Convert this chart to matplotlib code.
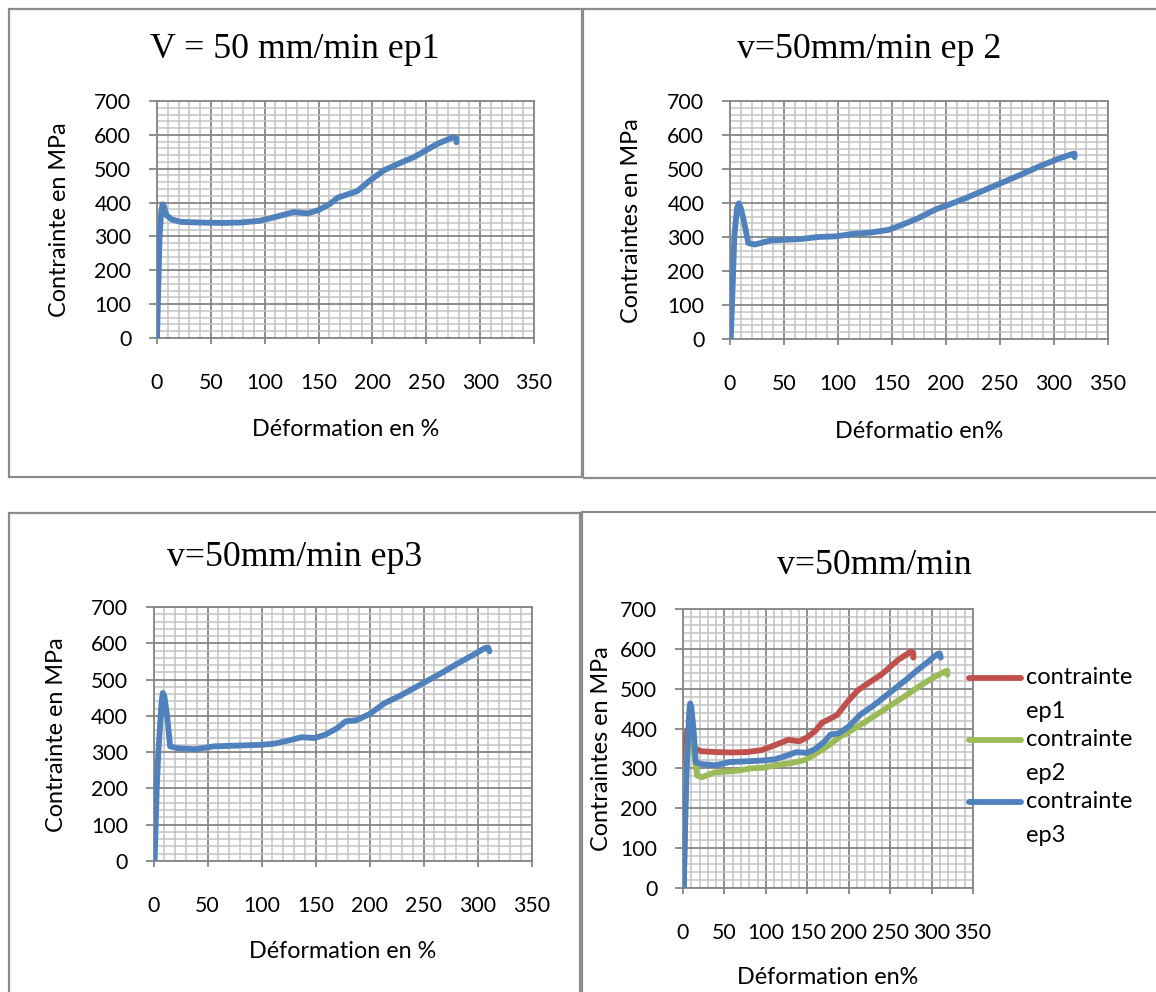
import matplotlib
matplotlib.use("Agg")
import matplotlib.pyplot as plt
from matplotlib.patches import Rectangle
from matplotlib.lines import Line2D
from matplotlib.ticker import MultipleLocator

# Stress-strain data (strain in %, stress in MPa)
ep1_x = [0, 1.2, 2.4, 4, 5.2, 6.5, 8.6, 13.8, 22, 40, 60, 77, 95, 108, 119, 127,
         133, 140, 150, 160, 168, 175, 186, 198, 211, 225, 239, 249, 260, 275, 278, 278]
ep1_y = [0, 150, 300, 375, 395, 388, 363, 350, 343, 341, 340, 341, 346, 356, 365, 372,
         370, 368, 378, 395, 415, 422, 434, 466, 496, 516, 535, 553, 573, 593, 590, 578]

ep2_x = [0.7, 2.5, 4, 6.5, 8.2, 10, 12.6, 17, 23, 38, 65, 82, 99, 113, 130, 147,
         157, 174, 191, 201, 218, 235, 252, 269, 286, 303, 317, 319, 319]
ep2_y = [0, 160, 300, 385, 399, 385, 350, 282, 278, 290, 294, 300, 302, 309, 313, 321,
         333, 355, 382, 393, 414, 437, 460, 483, 507, 529, 544, 545, 535]

ep3_x = [1, 3, 4.5, 7.5, 8.6, 10, 12.7, 15.4, 22, 39, 56, 77, 98, 111, 125, 137, 149,
         159, 170, 178, 188, 200, 214, 228, 241, 255, 269, 282, 296, 307, 310, 311]
ep3_y = [0, 200, 300, 440, 463, 455, 398, 316, 311, 308, 316, 318, 320, 323, 332, 341, 339,
         348, 366, 385, 388, 405, 435, 455, 476, 499, 522, 545, 568, 587, 588, 578]

series_names = ["contrainte\nep1", "contrainte\nep2", "contrainte\nep3"]
series_colors = ["#C0504D", "#9BBB59", "#4F81BD"]

x_ticks = [0, 50, 100, 150, 200, 250, 300, 350]
y_ticks = [0, 100, 200, 300, 400, 500, 600, 700]

W, H = 1156, 992
fig = plt.figure(figsize=(W / 100, H / 100), dpi=100)
fig.patch.set_facecolor("white")

SANS = "Lato"
SERIF = "Liberation Serif"
MAJOR = "#868686"
MINOR = "#C3C3C3"


def fit_size(text, family, target_px, ref=20):
    # font size that makes `text` about target_px wide
    t = fig.text(0, 0, text, fontsize=ref, fontfamily=family)
    w = t.get_window_extent(renderer=fig.canvas.get_renderer()).width
    t.remove()
    return ref * target_px / w


TICK_FS = fit_size("700", SANS, 37)
LABEL_FS = fit_size("Déformation en %", SANS, 188)
LEG_FS = fit_size("contrainte", SANS, 107)
TITLE_FS = fit_size("V = 50 mm/min ep1", SERIF, 290)


def fx(x):
    return x / W


def fy(y):
    return 1 - y / H


def make_axes(left, right, top, bottom):
    ax = fig.add_axes([fx(left), fy(bottom), (right - left) / W, (bottom - top) / H])
    ax.set_xlim(0, 350)
    ax.set_ylim(0, 700)
    ax.set_xticks(x_ticks)
    ax.set_yticks(y_ticks)
    ax.xaxis.set_minor_locator(MultipleLocator(10))
    ax.yaxis.set_minor_locator(MultipleLocator(20))
    ax.grid(which="minor", color=MINOR, linewidth=1.1, zorder=0)
    ax.grid(which="major", color=MAJOR, linewidth=1.3, zorder=0)
    ax.set_axisbelow(True)
    ax.tick_params(which="minor", length=0)
    ax.tick_params(axis="y", which="major", direction="out", length=6, width=1.3,
                   color=MAJOR, pad=12.5, labelsize=TICK_FS)
    ax.tick_params(axis="x", which="major", direction="out", length=4, width=1.3,
                   color=MAJOR, pad=21, labelsize=TICK_FS)
    for lab in ax.get_xticklabels() + ax.get_yticklabels():
        lab.set_fontfamily(SANS)
    for s in ax.spines.values():
        s.set_color(MAJOR)
        s.set_linewidth(1.3)
    return ax


def frame(x0, y0, x1, y1):
    fig.add_artist(Rectangle((fx(x0), fy(y1)), (x1 - x0) / W, (y1 - y0) / H,
                             transform=fig.transFigure, fill=False,
                             edgecolor="#8C8C8C", linewidth=1.6))


def label(x, y, text, rot=0):
    fig.text(fx(x), fy(y), text, rotation=rot, ha="center", va="center",
             fontsize=LABEL_FS, fontfamily=SANS)


def title(x, y, text):
    fig.text(fx(x), fy(y), text, ha="center", va="center", fontsize=TITLE_FS,
             fontfamily=SERIF)


LW = 4.2
line_kw = dict(linewidth=LW, solid_capstyle="round", solid_joinstyle="round", zorder=3)

# panel frames
frame(9, 9, 582, 477)
frame(583, 9, 1162, 478)
frame(9, 513, 580, 998)
frame(582, 512, 1162, 998)

# ep1
ax1 = make_axes(157, 534, 101, 338)
ax1.plot(ep1_x, ep1_y, color=series_colors[2], **line_kw)
title(295, 50, "V = 50 mm/min ep1")
label(59, 220, "Contrainte en MPa", rot=90)
label(346, 430, "Déformation en %")

# ep2
ax2 = make_axes(730, 1108, 101, 339)
ax2.plot(ep2_x, ep2_y, color=series_colors[2], **line_kw)
title(869, 50, "v=50mm/min ep 2")
label(631, 221, "Contraintes en MPa", rot=90)
label(919, 432, "Déformatio en%")

# ep3
ax3 = make_axes(153.5, 531.5, 607, 861)
ax3.plot(ep3_x, ep3_y, color=series_colors[2], **line_kw)
title(295, 557, "v=50mm/min ep3")
label(57, 735, "Contrainte en MPa", rot=90)
label(343, 952, "Déformation en %")

# all three together
ax4 = make_axes(683, 973, 609, 888)
for xs, ys, c in zip([ep1_x, ep2_x, ep3_x], [ep1_y, ep2_y, ep3_y], series_colors):
    ax4.plot(xs, ys, color=c, **line_kw)
title(874, 565, "v=50mm/min")
label(601, 749, "Contraintes en MPa", rot=90)
label(828, 977, "Déformation en%")

# legend, drawn by hand so the line sits beside the first text line
for i, (name, c) in enumerate(zip(series_names, series_colors)):
    yl = 678 + i * 62
    fig.add_artist(Line2D([fx(969), fx(1021)], [fy(yl), fy(yl)], transform=fig.transFigure,
                          color=c, linewidth=LW, solid_capstyle="round"))
    first, second = name.split("\n")
    fig.text(fx(1026), fy(yl), first, ha="left", va="center", fontsize=LEG_FS, fontfamily=SANS)
    fig.text(fx(1026), fy(yl + 33), second, ha="left", va="center", fontsize=LEG_FS,
             fontfamily=SANS)

plt.savefig("out.png", dpi=100)
